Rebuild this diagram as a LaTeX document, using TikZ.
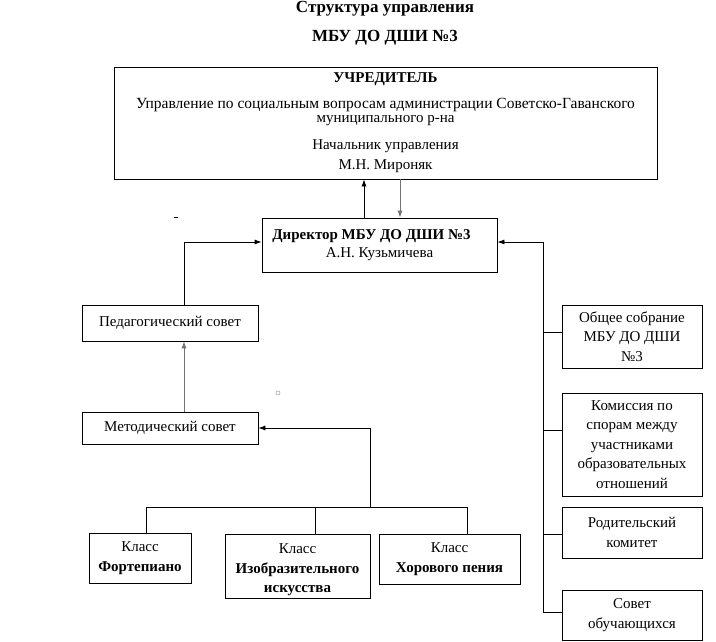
\documentclass[tikz,border=0pt]{standalone}
\usepackage{fontspec}
\setmainfont{Liberation Serif}
\usetikzlibrary{arrows.meta}
\tikzset{
  box/.style={draw, line width=0.8pt, inner sep=0pt, align=center, font=\fontsize{15}{19.5}\selectfont},
  conn/.style={line width=0.8pt},
  arr/.style={conn, -{Latex[length=7pt,width=5pt]}},
  grayarr/.style={arr, draw=black!55},
  title/.style={font=\fontsize{17}{20}\selectfont\bfseries, inner sep=0pt}
}
\begin{document}
\begin{tikzpicture}[x=1pt,y=-1pt]
\useasboundingbox (0,0) rectangle (716,642);
% titles
\node[title] (t1) at (385,9) {Структура управления};
\node[title] (t2) at (385,38) {МБУ ДО ДШИ №3};
% boxes
\node[box, minimum width=543, minimum height=112] (top) at (385.5,123) {%
  \textbf{УЧРЕДИТЕЛЬ}\\[6pt]
  {\fontsize{15.5}{19.5}\selectfont Управление по социальным вопросам администрации Советско-Гаванского}\\[-5pt]
  муниципального р-на\\[7pt]
  Начальник управления\\[1pt]
  М.Н. Мироняк};
\node[box, minimum width=235, minimum height=54] (dir) at (379.5,245) {%
  \textbf{Директор МБУ ДО ДШИ №3}\hspace*{16pt}\\[-1pt]
  А.Н. Кузьмичева};
\node[box, minimum width=176, minimum height=36] (ped) at (170,323) {Педагогический совет};
\node[box, minimum width=176, minimum height=32] (met) at (170,428) {Методический совет};
\node[box, minimum width=102, minimum height=50] (fort) at (140,558) {Класс\\\textbf{Фортепиано}};
\node[box, minimum width=145, minimum height=64] (izo) at (297.5,566) {\rule{0pt}{18pt}Класс\\\textbf{Изобразительного}\\\textbf{искусства}};
\node[box, minimum width=141, minimum height=50] (hor) at (449.5,559) {Класс\\\textbf{Хорового пения}};
\node[box, minimum width=140, minimum height=63] (obsh) at (632,336.5) {Общее собрание\\МБУ ДО ДШИ\\№3};
\node[box, minimum width=140, minimum height=103] (kom) at (632,444.5) {Комиссия по\\спорам между\\участниками\\образовательных\\отношений};
\node[box, minimum width=140, minimum height=51] (rod) at (632,532.5) {Родительский\\комитет};
\node[box, minimum width=140, minimum height=50] (sov) at (632,615) {Совет\\обучающихся};
% helper coordinates
\coordinate (xu) at (364,0);
\coordinate (xd) at (400,0);
\coordinate (xl) at (184,0);
\coordinate (ly) at (0,242);
\coordinate (xs) at (543,0);
\coordinate (bus) at (370,507);
\coordinate (busl) at (146,507);
\coordinate (busm) at (315,507);
\coordinate (busr) at (467,507);
\coordinate (y1) at (0,332);
\coordinate (y2) at (0,430);
\coordinate (y3) at (0,534);
\coordinate (y4) at (0,612);
% connectors
\draw[arr] (dir.north -| xu) -- (top.south -| xu);
\draw[grayarr] (top.south -| xd) -- (dir.north -| xd);
\draw[arr] (ped.north -| xl) -- (xl |- ly) -- (dir.west |- ly);
\draw[grayarr] (met.north -| xl) -- (ped.south -| xl);
\draw[arr] (bus) |- (met.east);
\draw[conn] (fort.north -| busl) -- (busl) -- (busr) -- (hor.north -| busr);
\draw[conn] (busm) -- (izo.north -| busm);
\draw[arr] (sov.west |- y4) -| (xs |- ly) -- (dir.east |- ly);
\draw[conn] (obsh.west |- y1) -- (xs |- y1);
\draw[conn] (kom.west |- y2) -- (xs |- y2);
\draw[conn] (rod.west |- y3) -- (xs |- y3);
% stray marks
\draw[line width=0.8pt] (174,217) -- (178,217);
\draw[draw=black!40, line width=0.5pt] (278,393) circle (2);
\end{tikzpicture}
\end{document}
